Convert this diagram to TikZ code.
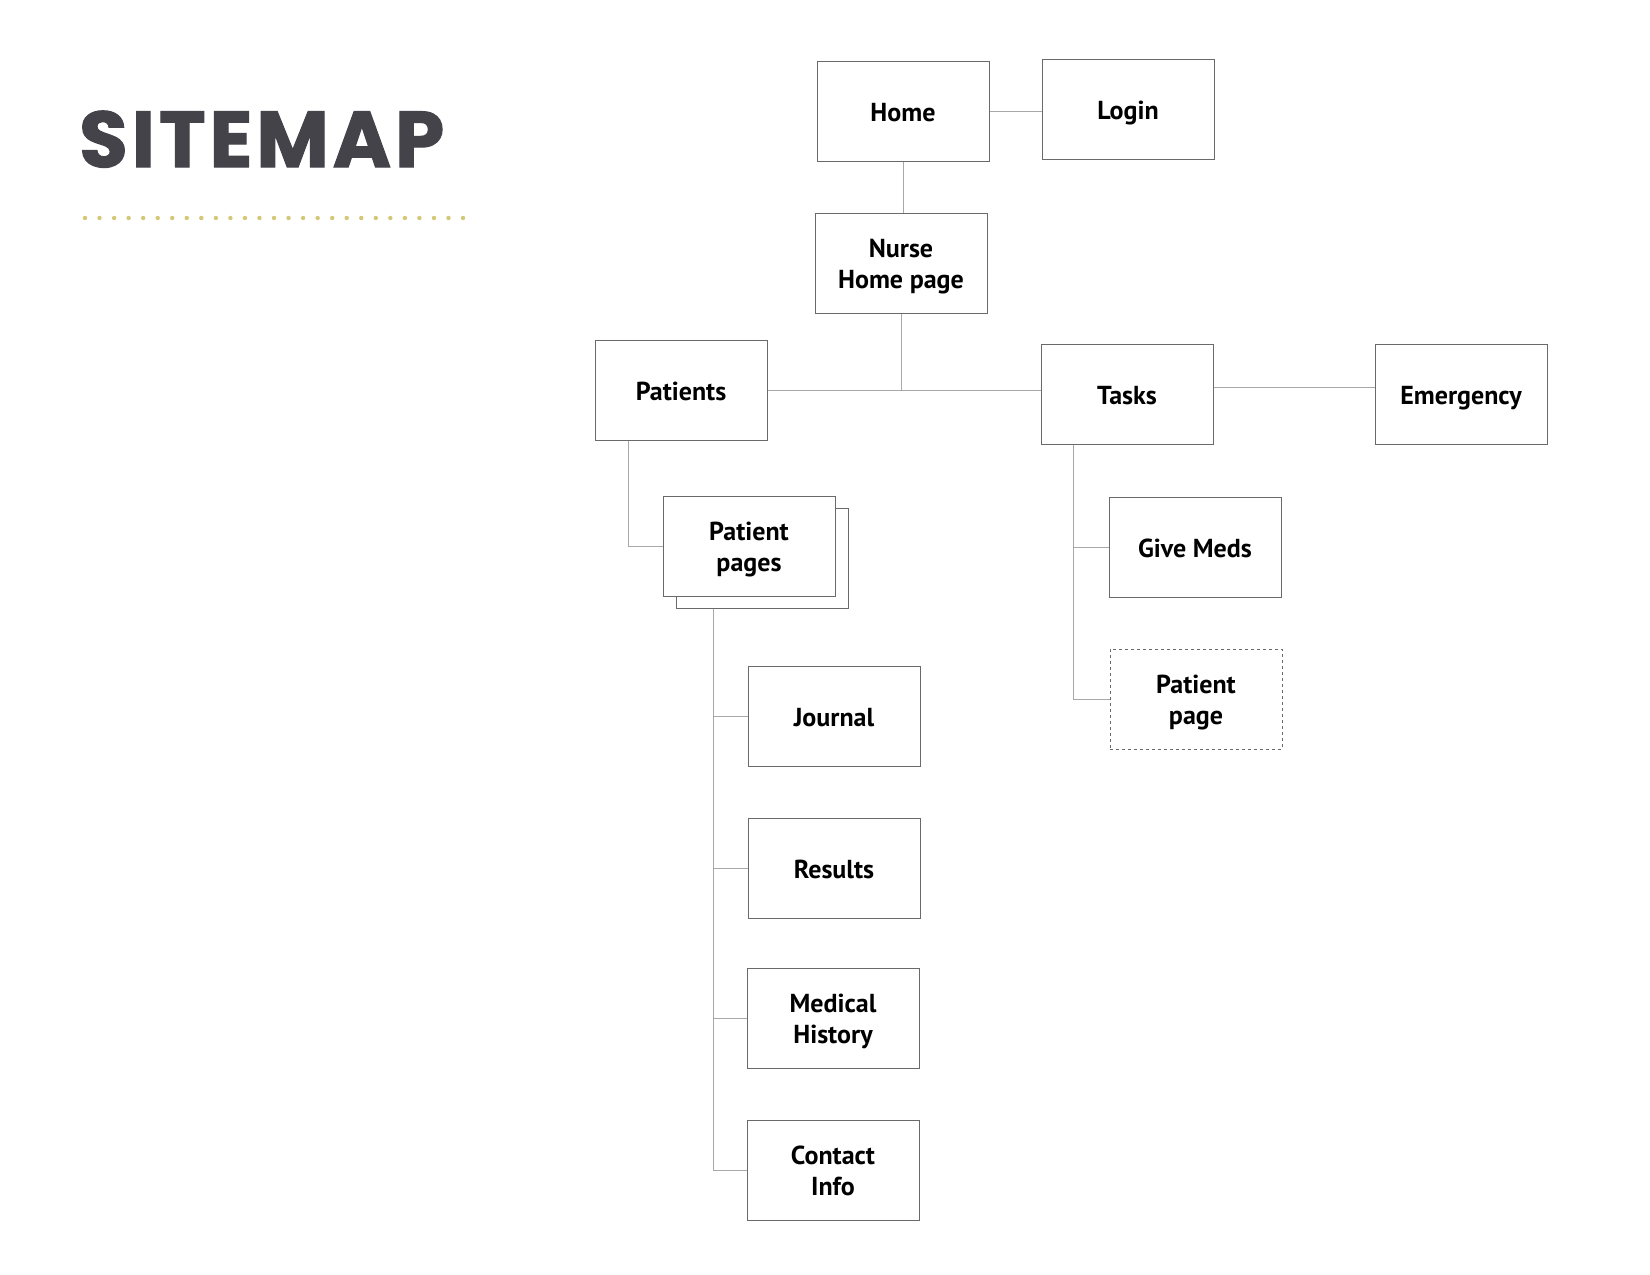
\documentclass[tikz,border=0pt]{standalone}
\usepackage{fontspec}
\setmainfont{PT Sans}
\newfontfamily\titlefont{Poppins}
\definecolor{titlecol}{HTML}{45434A}
\definecolor{dotcol}{HTML}{D4C777}
\definecolor{boxline}{HTML}{6A6A6A}
\definecolor{linkcol}{HTML}{A8A8A8}
\newcommand\lbl[1]{\raisebox{-4pt}[\height][\depth]{\begin{tabular}{@{}c@{}}#1\end{tabular}}}
\tikzset{
  pagebox/.style={draw=boxline, line width=1pt, fill=white, minimum width=172pt, minimum height=100pt,
    inner sep=0pt, align=center, font=\fontsize{26}{30.5}\selectfont\bfseries, text=black},
  link/.style={draw=linkcol, line width=1pt}
}
\begin{document}
\begin{tikzpicture}[x=1pt,y=-1pt]
\useasboundingbox[fill=white] (0,0) rectangle (1650,1275);
% title
\node[anchor=base west, inner sep=0pt, text=titlecol, font=\titlefont\bfseries\fontsize{79}{79}\selectfont\addfontfeature{LetterSpace=5,FakeBold=1.5}] (title) at (79,167) {SITEMAP};
\foreach \i in {0,...,26} \fill[dotcol] (85+\i*14.54,218) circle (2.2);
% nodes
\node[pagebox] (home) at (903,111) {\lbl{Home}};
\node[pagebox] (login) at (1128,109) {\lbl{Login}};
\node[pagebox] (nurse) at (901,263) {\lbl{Nurse\\Home page}};
\node[pagebox] (patients) at (681,390) {\lbl{Patients}};
\node[pagebox] (tasks) at (1127,394) {\lbl{Tasks}};
\node[pagebox] (emergency) at (1461,394) {\lbl{Emergency}};
\node[pagebox] (ppback) at (762,558) {};
\node[pagebox] (ppfront) at (749,546) {\lbl{Patient\\pages}};
\node[pagebox] (journal) at (834,716) {\lbl{Journal}};
\node[pagebox] (results) at (834,868) {\lbl{Results}};
\node[pagebox] (medical) at (833,1018) {\lbl{Medical\\History}};
\node[pagebox] (contact) at (833,1170) {\lbl{Contact\\Info}};
\node[pagebox] (givemeds) at (1195,547) {\lbl{Give Meds}};
\node[pagebox, dashed] (ptpage) at (1196,699) {\lbl{Patient\\page}};
% connectors
\draw[link] (home.east) -- (home.east -| login.west);
\draw[link] (home.south) -- (home.south |- nurse.north);
\draw[link] (patients.east) -- (patients.east -| tasks.west);
\draw[link] (nurse.south) -- (nurse.south |- patients.east);
\draw[link] ([yshift=7pt]tasks.east) -- ([yshift=7pt]tasks.east -| emergency.west);
\draw[link] ([xshift=34pt]patients.south west) |- (ppfront.west);
\coordinate (spine) at ([xshift=38pt]ppback.south west);
\draw[link] (spine) |- (contact.west);
\draw[link] (journal.west) -- (journal.west -| spine);
\draw[link] (results.west) -- (results.west -| spine);
\draw[link] (medical.west) -- (medical.west -| spine);
\coordinate (tspine) at ([xshift=33pt]tasks.south west);
\draw[link] (tspine) |- (ptpage.west);
\draw[link] (givemeds.west) -- (givemeds.west -| tspine);
\end{tikzpicture}
\end{document}
